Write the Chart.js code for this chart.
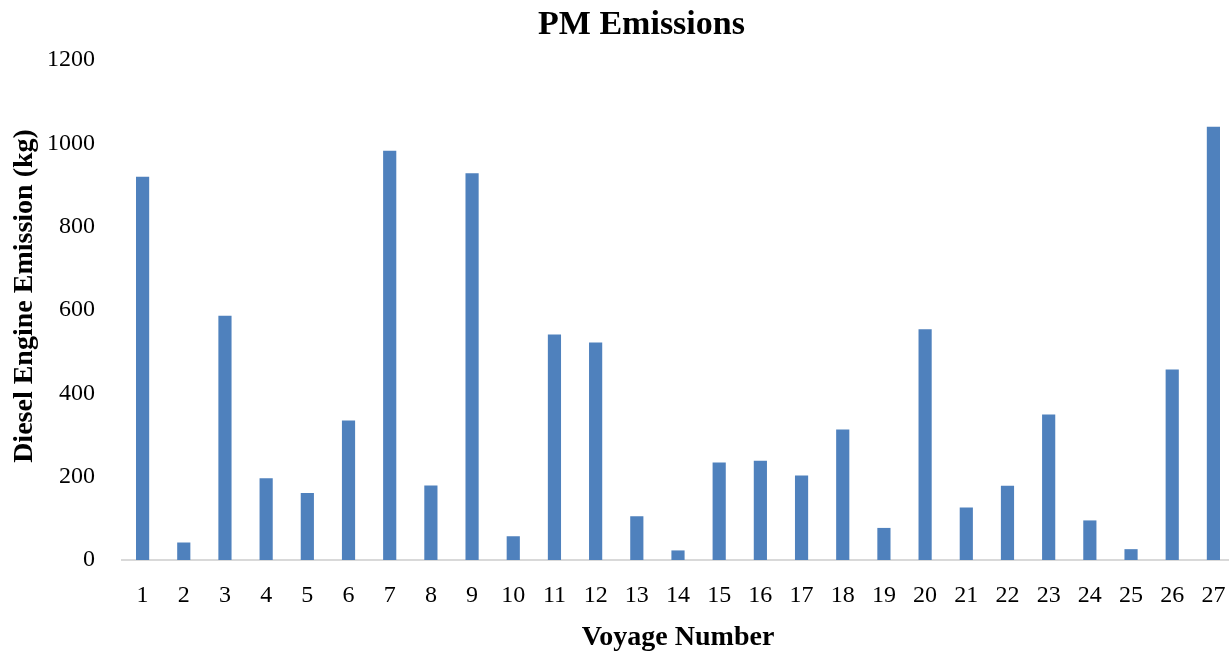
<!DOCTYPE html>
<html>
<head>
<meta charset="utf-8">
<script src="https://cdn.jsdelivr.net/npm/chart.js@4.4.1/dist/chart.umd.min.js"></script>
<style>
  html, body { margin: 0; padding: 0; background: #ffffff; overflow: hidden; }
  #wrap { position: relative; width: 1234px; height: 655px; }
</style>
</head>
<body>
<div id="wrap"><canvas id="c" width="1234" height="655"></canvas></div>
<script>
const chartTitle = 'PM Emissions';
const xAxisTitle = 'Voyage Number';
const yAxisTitle = 'Diesel Engine Emission (kg)';
const categories = ['1','2','3','4','5','6','7','8','9','10','11','12','13','14','15','16','17','18','19','20','21','22','23','24','25','26','27'];
const pmValues = [920, 42, 586, 196, 161, 335, 982, 179, 928, 57, 541, 522, 105, 23, 234, 238, 203, 313, 77, 554, 126, 178, 349, 95, 26, 457, 1040];
const yTickValues = [0, 200, 400, 600, 800, 1000, 1200];

const FONT = '"Liberation Serif", "Times New Roman", serif';

const titlesPlugin = {
  id: 'placedTitles',
  afterDraw(chart) {
    const ctx = chart.ctx;
    ctx.save();
    ctx.fillStyle = '#000000';
    ctx.textAlign = 'center';
    ctx.textBaseline = 'middle';
    ctx.font = 'bold 34px ' + FONT;
    ctx.fillText(chartTitle, 641.5, 25);
    ctx.translate(25, 296);
    ctx.rotate(-Math.PI / 2);
    ctx.font = 'bold 28px ' + FONT;
    ctx.fillText(yAxisTitle, 0, 0);
    ctx.restore();
  }
};

new Chart(document.getElementById('c'), {
  type: 'bar',
  data: {
    labels: categories,
    datasets: [{
      label: 'PM',
      data: pmValues,
      backgroundColor: '#4F81BD',
      borderWidth: 0,
      barPercentage: 0.32,
      categoryPercentage: 1.0
    }]
  },
  options: {
    responsive: false,
    animation: false,
    layout: { padding: { top: 60, left: 0, right: 0, bottom: 0 } },
    plugins: {
      legend: { display: false },
      tooltip: { enabled: false },
      title: { display: false }
    },
    scales: {
      x: {
        grid: { display: false, drawTicks: false },
        border: { display: true, color: '#d9d9d9', width: 2 },
        ticks: {
          color: '#000000',
          padding: 21,
          maxRotation: 0,
          autoSkip: false,
          font: { family: FONT, size: 24 }
        },
        title: {
          display: true,
          text: xAxisTitle,
          color: '#000000',
          font: { family: FONT, size: 28, weight: 'bold' },
          padding: { top: 0, bottom: 0 }
        },
        afterFit(scale) {
          scale.height = 95;
          scale.paddingLeft = 0;
          scale.paddingRight = 0;
        }
      },
      y: {
        min: yTickValues[0],
        max: yTickValues[yTickValues.length - 1],
        grid: { display: false, drawTicks: false },
        border: { display: false },
        afterBuildTicks(scale) { scale.ticks = yTickValues.map(v => ({ value: v })); },
        ticks: {
          color: '#000000',
          padding: 27,
          font: { family: FONT, size: 24 },
          callback: (v) => String(v)
        },
        title: { display: false },
        afterFit(scale) { scale.width = 122; }
      }
    }
  },
  plugins: [titlesPlugin]
});
</script>
</body>
</html>
